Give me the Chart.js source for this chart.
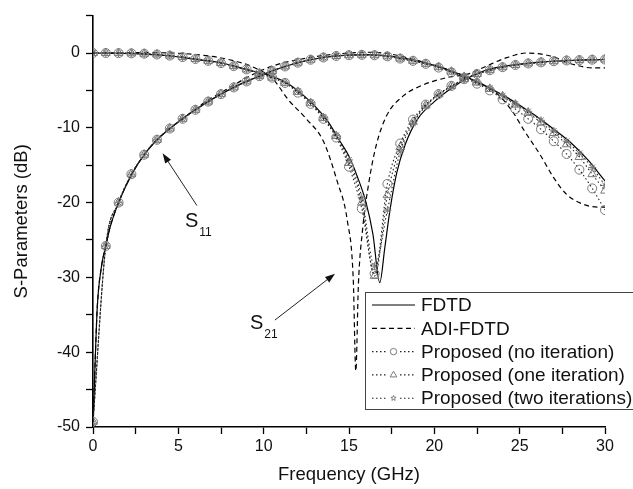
<!DOCTYPE html>
<html>
<head>
<meta charset="utf-8">
<script src="https://cdn.jsdelivr.net/npm/chart.js@4/dist/chart.umd.min.js"></script>
<style>
  html, body { margin: 0; padding: 0; background: #fff; }
  canvas { display: block; }
</style>
</head>
<body>
<canvas id="sparamChart" width="633" height="489"></canvas>
<script>
// frequencies (GHz) and S-parameter values (dB)
const fdtdS11Freq = [0, 0.1, 0.25, 0.5, 0.75, 1, 1.5, 2.25, 3, 3.75, 4.5, 5.25, 6, 6.75, 7.5, 8.25, 9, 9.75, 10.5, 11.25, 12, 13, 14, 15, 16, 17, 18, 19, 20, 21, 22, 23, 24, 25, 26, 27, 28, 29, 30];
const fdtdS11 = [-50, -43, -34, -28.5, -25.8, -23.3, -20, -16.3, -13.6, -11.6, -10.1, -8.8, -7.6, -6.5, -5.5, -4.6, -3.8, -3.1, -2.4, -1.8, -1.3, -0.8, -0.45, -0.28, -0.22, -0.3, -0.6, -1.05, -1.65, -2.4, -3.3, -4.4, -5.6, -7.0, -8.5, -10.2, -12.0, -14.3, -17.1];

const fdtdS21Freq = [0, 1.5, 3, 4.5, 6, 7.5, 9, 10.5, 11.5, 12.25, 13, 13.75, 14.5, 15, 15.5, 16, 16.4, 16.8, 17.1, 17.4, 17.8, 18.3, 19, 20, 21, 22, 23, 24, 25, 26, 27, 28, 29, 30];
const fdtdS21 = [0, -0.05, -0.15, -0.4, -0.85, -1.3, -2.2, -3.1, -4.2, -5.5, -7.1, -9.1, -11.9, -13.8, -16.6, -20, -24.2, -30.7, -26, -21, -16, -12.2, -8.9, -6.5, -4.7, -3.3, -2.3, -1.8, -1.5, -1.25, -1.1, -1.0, -0.92, -0.87];

const adiS11Freq = [0, 0.1, 0.25, 0.5, 0.75, 1, 1.5, 2.25, 3, 3.75, 4.5, 5.25, 6, 6.75, 7.5, 8.25, 9, 10, 11, 12, 13, 14, 15, 16, 17, 18, 19, 20, 21, 22, 23, 23.8, 24.6, 25.3, 26.2, 27, 27.75, 28.7, 29.6, 30];
const adiS11 = [-50, -43, -34, -28.5, -25.8, -23.3, -20, -16.3, -13.6, -11.6, -10.1, -8.8, -7.5, -6.3, -5.3, -4.3, -3.3, -2.2, -1.4, -0.9, -0.5, -0.2, 0, 0.1, 0, -0.4, -1.0, -1.6, -2.4, -3.3, -4.4, -5.7, -7.9, -10.5, -13.6, -16.7, -18.9, -20.2, -20.6, -20.6];

const adiS21Freq = [0, 3, 6, 8, 9.5, 10.5, 11.5, 12.5, 13.5, 14.3, 14.9, 15.25, 15.4, 15.55, 15.8, 16.15, 16.6, 17.2, 18.2, 19.2, 20.7, 22, 23, 24.2, 25.4, 26.8, 28.1, 29.3, 30];
const adiS21 = [0, 0.05, -0.2, -0.9, -2.0, -3.4, -6.4, -8.8, -11.8, -17.1, -22.4, -30.3, -42.5, -31, -23.5, -17.5, -12.3, -8.4, -5.7, -4.4, -3.3, -2.8, -1.8, -0.66, 0, -0.4, -1.5, -2.0, -2.0];

// proposed methods, sampled at the marker positions
const propFreq = [0, 0.75, 1.5, 2.25, 3, 3.75, 4.5, 5.25, 6, 6.75, 7.5, 8.25, 9, 9.75, 10.5, 11.25, 12, 12.75, 13.5, 14.25, 15, 15.75, 16.5, 17.25, 18, 18.75, 19.5, 20.25, 21, 21.75, 22.5, 23.25, 24, 24.75, 25.5, 26.25, 27, 27.75, 28.5, 29.25, 30];

const noIterS11 = [-49.3, -25.8, -20, -16.2, -13.6, -11.6, -10.1, -8.8, -7.6, -6.5, -5.5, -4.6, -3.8, -3.1, -2.4, -1.8, -1.3, -0.9, -0.6, -0.4, -0.3, -0.25, -0.3, -0.45, -0.75, -1.05, -1.45, -1.95, -2.6, -3.3, -4.1, -5.0, -6.2, -7.5, -8.8, -10.2, -11.8, -13.5, -15.6, -18.1, -21];
const noIterS21 = [0, 0, -0.02, -0.05, -0.1, -0.2, -0.35, -0.55, -0.8, -1.05, -1.35, -1.75, -2.2, -2.75, -3.3, -4.0, -5.3, -6.8, -8.8, -11.3, -15.2, -20.8, -29.5, -17.5, -12.1, -8.9, -6.9, -5.5, -4.4, -3.5, -2.8, -2.3, -1.9, -1.6, -1.4, -1.25, -1.1, -1.0, -0.95, -0.9, -0.87];

const oneIterS11 = [-49.3, -25.8, -20, -16.2, -13.6, -11.6, -10.1, -8.8, -7.6, -6.5, -5.5, -4.6, -3.8, -3.1, -2.4, -1.8, -1.3, -0.9, -0.6, -0.4, -0.3, -0.25, -0.3, -0.45, -0.75, -1.05, -1.45, -1.9, -2.5, -3.2, -3.95, -4.8, -5.8, -6.9, -8.0, -9.3, -10.7, -12.2, -13.9, -16.2, -18.4];
const oneIterS21 = [0, 0, -0.02, -0.05, -0.1, -0.2, -0.35, -0.55, -0.8, -1.05, -1.35, -1.75, -2.2, -2.75, -3.3, -4.0, -5.2, -6.7, -8.7, -11.1, -14.7, -20.0, -29.8, -19.0, -12.6, -9.2, -7.0, -5.5, -4.4, -3.5, -2.8, -2.3, -1.9, -1.6, -1.4, -1.25, -1.1, -1.0, -0.95, -0.9, -0.87];

const twoIterS11 = [-49.5, -25.8, -20, -16.3, -13.6, -11.6, -10.1, -8.8, -7.6, -6.5, -5.5, -4.6, -3.8, -3.1, -2.4, -1.8, -1.3, -0.9, -0.6, -0.4, -0.3, -0.25, -0.3, -0.45, -0.7, -1.0, -1.4, -1.85, -2.45, -3.15, -3.9, -4.7, -5.7, -6.8, -7.8, -9.0, -10.4, -11.8, -13.4, -15.3, -17.7];
const twoIterS21 = [0, 0, -0.02, -0.05, -0.12, -0.22, -0.38, -0.58, -0.82, -1.08, -1.35, -1.75, -2.2, -2.75, -3.2, -3.9, -5.1, -6.6, -8.6, -11.0, -14.3, -19.3, -28.5, -21.0, -13.2, -9.4, -7.1, -5.6, -4.5, -3.5, -2.8, -2.3, -1.9, -1.6, -1.4, -1.25, -1.1, -1.0, -0.95, -0.9, -0.87];

// axis ticks
const xMajorTicks = [0, 5, 10, 15, 20, 25, 30];
const yMajorTicks = [0, -10, -20, -30, -40, -50];

const legendLabels = ['FDTD', 'ADI-FDTD', 'Proposed (no iteration)', 'Proposed (one iteration)', 'Proposed (two iterations)'];

// curve labels and arrows (data coordinates)
const curveLabels = [
  { sub: '11', x: 5.39, y: -23.2, from: [6.09, -20.4], to: [4.08, -13.4] },
  { sub: '21', x: 9.2, y: -36.9, from: [10.66, -35.7], to: [14.18, -29.5] }
];

function pts(fs, vs) {
  return fs.map((f, i) => ({ x: f, y: vs[i] }));
}

const styles = [
  { borderColor: '#000', borderWidth: 1.2, borderDash: [], pointStyle: false },
  { borderColor: '#000', borderWidth: 1.2, borderDash: [5, 3.5], pointStyle: false },
  { borderColor: '#222', borderWidth: 1.1, borderDash: [1.5, 2.5], pointStyle: 'circle', radius: 4.5 },
  { borderColor: '#222', borderWidth: 1.1, borderDash: [1.5, 2.5], pointStyle: 'triangle', radius: 5 },
  { borderColor: '#222', borderWidth: 1.1, borderDash: [1.5, 2.5], pointStyle: 'star', radius: 4 }
];
const markerColor = '#7a7a7a';

function makeSet(styleIdx, data) {
  const s = styles[styleIdx];
  return {
    label: legendLabels[styleIdx],
    data: data,
    borderColor: s.borderColor,
    borderWidth: s.borderWidth,
    borderDash: s.borderDash,
    cubicInterpolationMode: 'monotone',
    pointStyle: s.pointStyle || 'circle',
    pointRadius: s.pointStyle ? s.radius : 0,
    pointHoverRadius: 0,
    pointBorderColor: markerColor,
    pointBorderWidth: 1,
    pointBackgroundColor: 'rgba(0,0,0,0)',
    fill: false
  };
}

const datasets = [
  makeSet(2, pts(propFreq, noIterS11)),
  makeSet(2, pts(propFreq, noIterS21)),
  makeSet(3, pts(propFreq, oneIterS11)),
  makeSet(3, pts(propFreq, oneIterS21)),
  makeSet(4, pts(propFreq, twoIterS11)),
  makeSet(4, pts(propFreq, twoIterS21)),
  makeSet(1, pts(adiS11Freq, adiS11)),
  makeSet(1, pts(adiS21Freq, adiS21)),
  makeSet(0, pts(fdtdS11Freq, fdtdS11)),
  makeSet(0, pts(fdtdS21Freq, fdtdS21))
];

const FONT = '"Liberation Sans", Arial, sans-serif';

function drawMarker(ctx, style, r, x, y) {
  ctx.save();
  ctx.strokeStyle = markerColor;
  ctx.lineWidth = 1;
  ctx.setLineDash([]);
  ctx.beginPath();
  if (style === 'circle') {
    ctx.arc(x, y, r, 0, Math.PI * 2);
  } else if (style === 'triangle') {
    ctx.moveTo(x, y - r);
    ctx.lineTo(x + r * 0.9, y + r * 0.55);
    ctx.lineTo(x - r * 0.9, y + r * 0.55);
    ctx.closePath();
  } else if (style === 'star') {
    for (let i = 0; i < 10; i++) {
      const a = -Math.PI / 2 + i * Math.PI / 5;
      const rr = i % 2 === 0 ? r : r * 0.45;
      const px = x + rr * Math.cos(a), py = y + rr * Math.sin(a);
      if (i === 0) ctx.moveTo(px, py); else ctx.lineTo(px, py);
    }
    ctx.closePath();
  }
  ctx.stroke();
  ctx.restore();
}

const legendBox = {
  id: 'legendBox',
  afterDraw(chart) {
    const ctx = chart.ctx;
    const left = 365, top = 292, w = 275, h = 117, rowH = 23.3;
    ctx.save();
    ctx.fillStyle = '#fff';
    ctx.fillRect(left, top, w, h);
    ctx.strokeStyle = '#444';
    ctx.lineWidth = 1;
    ctx.strokeRect(left + 0.5, top + 0.5, w, h);
    ctx.font = '19px ' + FONT;
    ctx.textBaseline = 'middle';
    ctx.fillStyle = '#111';
    legendLabels.forEach((lab, i) => {
      const s = styles[i];
      const y = top + 13 + i * rowH;
      ctx.strokeStyle = s.borderColor;
      ctx.lineWidth = s.borderWidth;
      ctx.setLineDash(s.borderDash);
      ctx.beginPath();
      ctx.moveTo(left + 7, y);
      ctx.lineTo(left + 50, y);
      ctx.stroke();
      ctx.setLineDash([]);
      if (s.pointStyle) {
        ctx.fillStyle = '#fff';
        ctx.fillRect(left + 22, y - 5, 13, 10);
        ctx.fillStyle = '#111';
        drawMarker(ctx, s.pointStyle, s.radius - 1.3, left + 28.5, y);
      }
      ctx.fillText(lab, left + 56, y + 1);
    });
    ctx.restore();
  }
};

const curveNotes = {
  id: 'curveNotes',
  afterDraw(chart) {
    const ctx = chart.ctx;
    const xs = chart.scales.x, ys = chart.scales.y;
    ctx.save();
    ctx.fillStyle = '#111';
    ctx.strokeStyle = '#222';
    curveLabels.forEach(n => {
      const tx = xs.getPixelForValue(n.x), ty = ys.getPixelForValue(n.y);
      ctx.font = '20px ' + FONT;
      ctx.textBaseline = 'alphabetic';
      ctx.fillText('S', tx, ty);
      const sw = ctx.measureText('S').width;
      ctx.font = '12px ' + FONT;
      ctx.fillText(n.sub, tx + sw + 1, ty + 9);

      const x0 = xs.getPixelForValue(n.from[0]), y0 = ys.getPixelForValue(n.from[1]);
      const x1 = xs.getPixelForValue(n.to[0]), y1 = ys.getPixelForValue(n.to[1]);
      const ang = Math.atan2(y1 - y0, x1 - x0);
      const hl = 10, hw = 3.5;
      ctx.lineWidth = 1;
      ctx.beginPath();
      ctx.moveTo(x0, y0);
      ctx.lineTo(x1 - hl * Math.cos(ang) * 0.8, y1 - hl * Math.sin(ang) * 0.8);
      ctx.stroke();
      ctx.beginPath();
      ctx.moveTo(x1, y1);
      ctx.lineTo(x1 - hl * Math.cos(ang) + hw * Math.sin(ang), y1 - hl * Math.sin(ang) - hw * Math.cos(ang));
      ctx.lineTo(x1 - hl * Math.cos(ang) - hw * Math.sin(ang), y1 - hl * Math.sin(ang) + hw * Math.cos(ang));
      ctx.closePath();
      ctx.fill();
    });
    ctx.restore();
  }
};

new Chart(document.getElementById('sparamChart').getContext('2d'), {
  type: 'line',
  data: { datasets: datasets },
  options: {
    responsive: false,
    animation: false,
    devicePixelRatio: 1,
    layout: { padding: { top: 9, right: 28, left: 0, bottom: 0 } },
    plugins: { legend: { display: false }, tooltip: { enabled: false } },
    scales: {
      x: {
        type: 'linear',
        min: 0,
        max: 30,
        afterFit: s => { s.height = 62; },
        ticks: {
          stepSize: 2.5,
          autoSkip: false,
          maxRotation: 0,
          padding: 3,
          color: '#111',
          font: { family: FONT, size: 16 },
          callback: v => xMajorTicks.includes(v) ? String(v) : ''
        },
        grid: { drawOnChartArea: false, tickLength: 7, color: '#000', tickWidth: 1.3 },
        border: { color: '#000', width: 1.6 },
        title: {
          display: true,
          text: 'Frequency (GHz)',
          color: '#111',
          font: { family: FONT, size: 18.5 },
          padding: { top: 0, bottom: 3 }
        }
      },
      y: {
        min: -50,
        max: 5,
        afterFit: s => { s.width = 93; },
        ticks: {
          stepSize: 5,
          autoSkip: false,
          padding: 6,
          color: '#111',
          font: { family: FONT, size: 16 },
          callback: v => yMajorTicks.includes(v) ? String(v) : ''
        },
        grid: { drawOnChartArea: false, tickLength: 7, color: '#000', tickWidth: 1.3 },
        border: { color: '#000', width: 1.6 },
        title: {
          display: true,
          text: 'S-Parameters (dB)',
          color: '#111',
          font: { family: FONT, size: 18.5 },
          padding: { top: 11, bottom: 0 }
        }
      }
    }
  },
  plugins: [legendBox, curveNotes]
});
</script>
</body>
</html>
